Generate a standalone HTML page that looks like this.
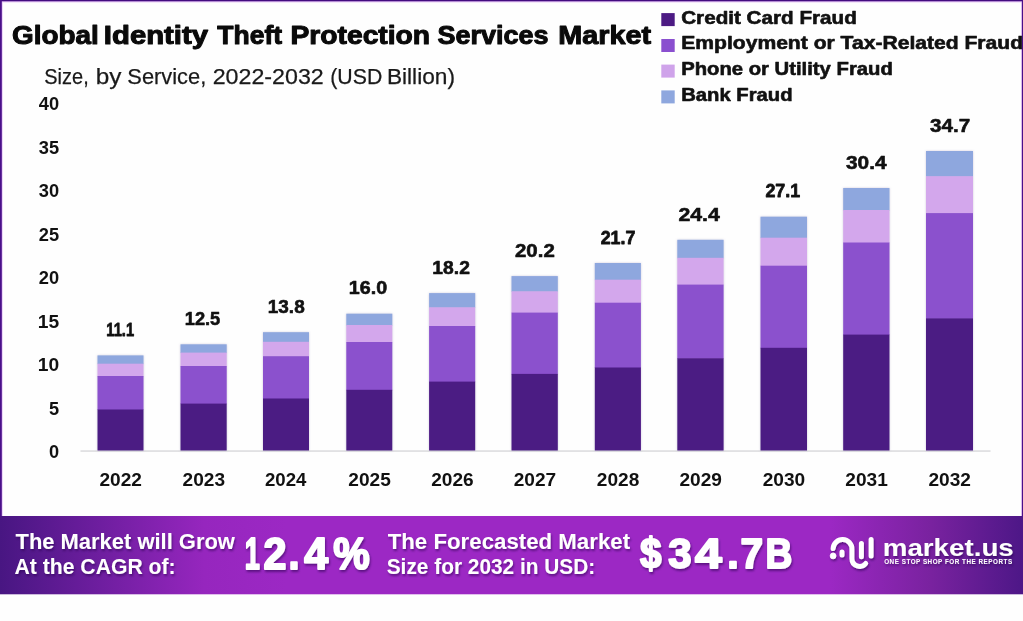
<!DOCTYPE html>
<html lang="en"><head><meta charset="utf-8"><title>Global Identity Theft Protection Services Market</title>
<style>
html,body{margin:0;padding:0;background:#fff;}
body{width:1023px;height:621px;overflow:hidden;}
svg{display:block}
text{font-family:"Liberation Sans",Arial,sans-serif;}
</style></head><body>
<svg width="1023" height="621" viewBox="0 0 1023 621">
<defs>
<linearGradient id="bg" x1="0" y1="0" x2="1" y2="0">
<stop offset="0" stop-color="#481682"/>
<stop offset="0.2" stop-color="#9626be"/>
<stop offset="0.28" stop-color="#9c28c4"/>
<stop offset="0.81" stop-color="#9c28c4"/>
<stop offset="0.91" stop-color="#79229f"/>
<stop offset="1" stop-color="#4d1787"/>
</linearGradient>
<filter id="sh" x="-10%" y="-10%" width="120%" height="130%"><feDropShadow dx="1" dy="2" stdDeviation="1.2" flood-color="#2a0650" flood-opacity="0.55"/></filter>
<filter id="soft" x="-15%" y="-5%" width="130%" height="110%"><feGaussianBlur stdDeviation="0.45" result="b"/><feDropShadow in="b" dx="0" dy="0" stdDeviation="1.3" flood-color="#7a6aa0" flood-opacity="0.35"/></filter>
</defs>
<rect x="0" y="0" width="1023" height="621" fill="#fefefe"/>

<rect x="0" y="0" width="1023" height="2.4" fill="#e6c4f6"/>
<rect x="0" y="0" width="2.7" height="520" fill="#e6c4f6"/>
<rect x="1021.2" y="0" width="1.8" height="520" fill="#e6c4f6"/>
<rect x="0" y="0" width="1023" height="1.3" fill="#430c80"/>
<rect x="0" y="0" width="1.8" height="520" fill="#4a1089"/>
<rect x="1021.9" y="0" width="1.1" height="520" fill="#4a1089"/>
<text x="12.10" y="44.3" font-size="25" font-weight="bold" textLength="86.69" lengthAdjust="spacingAndGlyphs" fill="#0a0a0a" stroke="#0a0a0a" stroke-width="1.0" stroke-linejoin="round">Global</text>
<text x="103.83" y="44.3" font-size="25" font-weight="bold" textLength="104.26" lengthAdjust="spacingAndGlyphs" fill="#0a0a0a" stroke="#0a0a0a" stroke-width="1.0" stroke-linejoin="round">Identity</text>
<text x="217.36" y="44.3" font-size="25" font-weight="bold" textLength="64.70" lengthAdjust="spacingAndGlyphs" fill="#0a0a0a" stroke="#0a0a0a" stroke-width="1.0" stroke-linejoin="round">Theft</text>
<text x="290.47" y="44.3" font-size="25" font-weight="bold" textLength="139.64" lengthAdjust="spacingAndGlyphs" fill="#0a0a0a" stroke="#0a0a0a" stroke-width="1.0" stroke-linejoin="round">Protection</text>
<text x="437.60" y="44.3" font-size="25" font-weight="bold" textLength="110.87" lengthAdjust="spacingAndGlyphs" fill="#0a0a0a" stroke="#0a0a0a" stroke-width="1.0" stroke-linejoin="round">Services</text>
<text x="558.35" y="44.3" font-size="25" font-weight="bold" textLength="92.78" lengthAdjust="spacingAndGlyphs" fill="#0a0a0a" stroke="#0a0a0a" stroke-width="1.0" stroke-linejoin="round">Market</text>
<text x="44.32" y="83.9" font-size="22.6" font-weight="normal" textLength="44.37" lengthAdjust="spacingAndGlyphs" fill="#1a1a1a" stroke="#1a1a1a" stroke-width="0.25" stroke-linejoin="round">Size,</text>
<text x="95.72" y="83.9" font-size="22.6" font-weight="normal" textLength="25.74" lengthAdjust="spacingAndGlyphs" fill="#1a1a1a" stroke="#1a1a1a" stroke-width="0.25" stroke-linejoin="round">by</text>
<text x="127.33" y="83.9" font-size="22.6" font-weight="normal" textLength="78.94" lengthAdjust="spacingAndGlyphs" fill="#1a1a1a" stroke="#1a1a1a" stroke-width="0.25" stroke-linejoin="round">Service,</text>
<text x="212.67" y="83.9" font-size="22.6" font-weight="normal" textLength="111.12" lengthAdjust="spacingAndGlyphs" fill="#1a1a1a" stroke="#1a1a1a" stroke-width="0.25" stroke-linejoin="round">2022-2032</text>
<text x="330.26" y="83.9" font-size="22.6" font-weight="normal" textLength="52.06" lengthAdjust="spacingAndGlyphs" fill="#1a1a1a" stroke="#1a1a1a" stroke-width="0.25" stroke-linejoin="round">(USD</text>
<text x="386.90" y="83.9" font-size="22.6" font-weight="normal" textLength="68.12" lengthAdjust="spacingAndGlyphs" fill="#1a1a1a" stroke="#1a1a1a" stroke-width="0.25" stroke-linejoin="round">Billion)</text>
<rect x="661.3" y="13.1" width="13.4" height="13" fill="#4c1a83"/>
<text x="681.20" y="24.0" font-size="18.4" font-weight="bold" textLength="175.59" lengthAdjust="spacingAndGlyphs" fill="#111" stroke="#111" stroke-width="0.6" stroke-linejoin="round">Credit Card Fraud</text>
<rect x="661.3" y="39.0" width="13.4" height="13" fill="#8a4fcf"/>
<text x="681.20" y="49.4" font-size="18.4" font-weight="bold" textLength="341.92" lengthAdjust="spacingAndGlyphs" fill="#111" stroke="#111" stroke-width="0.6" stroke-linejoin="round">Employment or Tax-Related Fraud</text>
<rect x="661.3" y="64.6" width="13.4" height="13" fill="#cfa3ea"/>
<text x="681.20" y="74.9" font-size="18.4" font-weight="bold" textLength="211.60" lengthAdjust="spacingAndGlyphs" fill="#111" stroke="#111" stroke-width="0.6" stroke-linejoin="round">Phone or Utility Fraud</text>
<rect x="661.3" y="90.4" width="13.4" height="13" fill="#8ea7de"/>
<text x="681.20" y="101.0" font-size="18.4" font-weight="bold" textLength="111.39" lengthAdjust="spacingAndGlyphs" fill="#111" stroke="#111" stroke-width="0.6" stroke-linejoin="round">Bank Fraud</text>
<text x="49.00" y="458.0" font-size="18" font-weight="bold" textLength="10.12" lengthAdjust="spacingAndGlyphs" fill="#111">0</text>
<text x="49.00" y="414.5" font-size="18" font-weight="bold" textLength="10.12" lengthAdjust="spacingAndGlyphs" fill="#111">5</text>
<text x="37.73" y="371.0" font-size="18" font-weight="bold" textLength="21.40" lengthAdjust="spacingAndGlyphs" fill="#111">10</text>
<text x="37.73" y="327.5" font-size="18" font-weight="bold" textLength="21.40" lengthAdjust="spacingAndGlyphs" fill="#111">15</text>
<text x="38.80" y="284.0" font-size="18" font-weight="bold" textLength="20.33" lengthAdjust="spacingAndGlyphs" fill="#111">20</text>
<text x="38.80" y="240.5" font-size="18" font-weight="bold" textLength="20.33" lengthAdjust="spacingAndGlyphs" fill="#111">25</text>
<text x="38.80" y="197.0" font-size="18" font-weight="bold" textLength="20.33" lengthAdjust="spacingAndGlyphs" fill="#111">30</text>
<text x="38.80" y="153.5" font-size="18" font-weight="bold" textLength="20.33" lengthAdjust="spacingAndGlyphs" fill="#111">35</text>
<text x="38.80" y="110.0" font-size="18" font-weight="bold" textLength="20.33" lengthAdjust="spacingAndGlyphs" fill="#111">40</text>
<rect x="80.5" y="450.4" width="910" height="1.3" fill="#d4d4d8"/>
<g filter="url(#soft)">
<rect x="97.5" y="355.4" width="46.0" height="8.8" fill="#8ea7de"/>
<rect x="97.5" y="363.7" width="46.0" height="12.8" fill="#d3a7ec"/>
<rect x="97.5" y="376.0" width="46.0" height="34.0" fill="#8b51cd"/>
<rect x="97.5" y="409.5" width="46.0" height="41.0" fill="#4c1a83"/>
</g>
<text x="106.30" y="336.1" font-size="19" font-weight="bold" textLength="27.85" lengthAdjust="spacingAndGlyphs" fill="#111" stroke="#111" stroke-width="0.8" stroke-linejoin="round">11.1</text>
<text x="99.50" y="485.5" font-size="18.2" font-weight="bold" textLength="42.49" lengthAdjust="spacingAndGlyphs" fill="#111">2022</text>
<g filter="url(#soft)">
<rect x="180.5" y="344.3" width="46.2" height="8.8" fill="#8ea7de"/>
<rect x="180.5" y="352.6" width="46.2" height="13.9" fill="#d3a7ec"/>
<rect x="180.5" y="366.0" width="46.2" height="38.1" fill="#8b51cd"/>
<rect x="180.5" y="403.6" width="46.2" height="46.9" fill="#4c1a83"/>
</g>
<text x="184.74" y="325.0" font-size="19" font-weight="bold" textLength="35.55" lengthAdjust="spacingAndGlyphs" fill="#111" stroke="#111" stroke-width="0.6" stroke-linejoin="round">12.5</text>
<text x="182.60" y="485.5" font-size="18.2" font-weight="bold" textLength="42.49" lengthAdjust="spacingAndGlyphs" fill="#111">2023</text>
<g filter="url(#soft)">
<rect x="263.0" y="332.2" width="46.0" height="10.1" fill="#8ea7de"/>
<rect x="263.0" y="341.8" width="46.0" height="14.9" fill="#d3a7ec"/>
<rect x="263.0" y="356.2" width="46.0" height="42.8" fill="#8b51cd"/>
<rect x="263.0" y="398.5" width="46.0" height="52.0" fill="#4c1a83"/>
</g>
<text x="267.80" y="312.9" font-size="19" font-weight="bold" textLength="36.88" lengthAdjust="spacingAndGlyphs" fill="#111" stroke="#111" stroke-width="0.6" stroke-linejoin="round">13.8</text>
<text x="265.00" y="485.5" font-size="18.2" font-weight="bold" textLength="41.46" lengthAdjust="spacingAndGlyphs" fill="#111">2024</text>
<g filter="url(#soft)">
<rect x="346.3" y="313.7" width="46.0" height="11.8" fill="#8ea7de"/>
<rect x="346.3" y="325.0" width="46.0" height="17.5" fill="#d3a7ec"/>
<rect x="346.3" y="342.0" width="46.0" height="48.3" fill="#8b51cd"/>
<rect x="346.3" y="389.8" width="46.0" height="60.7" fill="#4c1a83"/>
</g>
<text x="348.86" y="294.4" font-size="19" font-weight="bold" textLength="38.32" lengthAdjust="spacingAndGlyphs" fill="#111" stroke="#111" stroke-width="0.6" stroke-linejoin="round">16.0</text>
<text x="348.30" y="485.5" font-size="18.2" font-weight="bold" textLength="42.49" lengthAdjust="spacingAndGlyphs" fill="#111">2025</text>
<g filter="url(#soft)">
<rect x="429.1" y="293.1" width="46.1" height="14.7" fill="#8ea7de"/>
<rect x="429.1" y="307.3" width="46.1" height="19.2" fill="#d3a7ec"/>
<rect x="429.1" y="326.0" width="46.1" height="56.1" fill="#8b51cd"/>
<rect x="429.1" y="381.6" width="46.1" height="68.9" fill="#4c1a83"/>
</g>
<text x="432.39" y="273.8" font-size="19" font-weight="bold" textLength="37.50" lengthAdjust="spacingAndGlyphs" fill="#111" stroke="#111" stroke-width="0.6" stroke-linejoin="round">18.2</text>
<text x="431.15" y="485.5" font-size="18.2" font-weight="bold" textLength="42.49" lengthAdjust="spacingAndGlyphs" fill="#111">2026</text>
<g filter="url(#soft)">
<rect x="511.5" y="276.1" width="46.3" height="15.7" fill="#8ea7de"/>
<rect x="511.5" y="291.3" width="46.3" height="21.8" fill="#d3a7ec"/>
<rect x="511.5" y="312.6" width="46.3" height="61.8" fill="#8b51cd"/>
<rect x="511.5" y="373.9" width="46.3" height="76.6" fill="#4c1a83"/>
</g>
<text x="515.00" y="256.8" font-size="19" font-weight="bold" textLength="39.78" lengthAdjust="spacingAndGlyphs" fill="#111" stroke="#111" stroke-width="0.6" stroke-linejoin="round">20.2</text>
<text x="513.65" y="485.5" font-size="18.2" font-weight="bold" textLength="42.49" lengthAdjust="spacingAndGlyphs" fill="#111">2027</text>
<g filter="url(#soft)">
<rect x="594.8" y="263.0" width="46.1" height="17.2" fill="#8ea7de"/>
<rect x="594.8" y="279.7" width="46.1" height="23.5" fill="#d3a7ec"/>
<rect x="594.8" y="302.7" width="46.1" height="65.3" fill="#8b51cd"/>
<rect x="594.8" y="367.5" width="46.1" height="83.0" fill="#4c1a83"/>
</g>
<text x="600.70" y="243.7" font-size="19" font-weight="bold" textLength="34.69" lengthAdjust="spacingAndGlyphs" fill="#111" stroke="#111" stroke-width="0.8" stroke-linejoin="round">21.7</text>
<text x="596.85" y="485.5" font-size="18.2" font-weight="bold" textLength="42.49" lengthAdjust="spacingAndGlyphs" fill="#111">2028</text>
<g filter="url(#soft)">
<rect x="677.3" y="239.8" width="46.3" height="18.5" fill="#8ea7de"/>
<rect x="677.3" y="257.8" width="46.3" height="27.3" fill="#d3a7ec"/>
<rect x="677.3" y="284.6" width="46.3" height="74.2" fill="#8b51cd"/>
<rect x="677.3" y="358.3" width="46.3" height="92.2" fill="#4c1a83"/>
</g>
<text x="678.40" y="220.5" font-size="19" font-weight="bold" textLength="41.36" lengthAdjust="spacingAndGlyphs" fill="#111" stroke="#111" stroke-width="0.6" stroke-linejoin="round">24.4</text>
<text x="679.45" y="485.5" font-size="18.2" font-weight="bold" textLength="42.49" lengthAdjust="spacingAndGlyphs" fill="#111">2029</text>
<g filter="url(#soft)">
<rect x="760.5" y="216.7" width="46.5" height="21.5" fill="#8ea7de"/>
<rect x="760.5" y="237.7" width="46.5" height="28.5" fill="#d3a7ec"/>
<rect x="760.5" y="265.7" width="46.5" height="82.6" fill="#8b51cd"/>
<rect x="760.5" y="347.8" width="46.5" height="102.7" fill="#4c1a83"/>
</g>
<text x="765.40" y="197.4" font-size="19" font-weight="bold" textLength="34.69" lengthAdjust="spacingAndGlyphs" fill="#111" stroke="#111" stroke-width="0.8" stroke-linejoin="round">27.1</text>
<text x="762.75" y="485.5" font-size="18.2" font-weight="bold" textLength="42.49" lengthAdjust="spacingAndGlyphs" fill="#111">2030</text>
<g filter="url(#soft)">
<rect x="843.2" y="188.0" width="46.3" height="22.5" fill="#8ea7de"/>
<rect x="843.2" y="210.0" width="46.3" height="33.0" fill="#d3a7ec"/>
<rect x="843.2" y="242.5" width="46.3" height="92.6" fill="#8b51cd"/>
<rect x="843.2" y="334.6" width="46.3" height="115.9" fill="#4c1a83"/>
</g>
<text x="846.00" y="168.7" font-size="19" font-weight="bold" textLength="40.49" lengthAdjust="spacingAndGlyphs" fill="#111" stroke="#111" stroke-width="0.6" stroke-linejoin="round">30.4</text>
<text x="845.35" y="485.5" font-size="18.2" font-weight="bold" textLength="42.49" lengthAdjust="spacingAndGlyphs" fill="#111">2031</text>
<g filter="url(#soft)">
<rect x="926.0" y="151.0" width="47.0" height="25.7" fill="#8ea7de"/>
<rect x="926.0" y="176.2" width="47.0" height="37.4" fill="#d3a7ec"/>
<rect x="926.0" y="213.1" width="47.0" height="105.8" fill="#8b51cd"/>
<rect x="926.0" y="318.4" width="47.0" height="132.1" fill="#4c1a83"/>
</g>
<text x="930.10" y="131.7" font-size="19" font-weight="bold" textLength="40.08" lengthAdjust="spacingAndGlyphs" fill="#111" stroke="#111" stroke-width="0.6" stroke-linejoin="round">34.7</text>
<text x="928.50" y="485.5" font-size="18.2" font-weight="bold" textLength="42.49" lengthAdjust="spacingAndGlyphs" fill="#111">2032</text>
<rect x="0" y="516" width="1023" height="78.3" fill="url(#bg)"/>
<g fill="#fff" stroke="#fff" stroke-linejoin="round" font-weight="bold" filter="url(#sh)">
<text x="15.49" y="548.5" font-size="22.2" font-weight="bold" textLength="219.45" lengthAdjust="spacingAndGlyphs" stroke="None" stroke-width="1.0" stroke-linejoin="round">The Market will Grow</text>
<text x="14.50" y="573.6" font-size="22.2" font-weight="bold" textLength="161.12" lengthAdjust="spacingAndGlyphs" stroke="None" stroke-width="1.0" stroke-linejoin="round">At the CAGR of:</text>
<text transform="translate(244.68,568.7) scale(0.622,1)" font-size="43.6" stroke-width="2.0">1</text>
<text transform="translate(263.60,568.7) scale(0.946,1)" font-size="43.6" stroke-width="2.0">2</text>
<text transform="translate(288.58,568.7) scale(0.911,1)" font-size="43.6" stroke-width="2.0">.</text>
<text transform="translate(304.18,568.7) scale(0.985,1)" font-size="43.6" stroke-width="2.0">4</text>
<text transform="translate(333.20,568.7) scale(0.941,1)" font-size="43.6" stroke-width="2.0">%</text>
<text x="387.70" y="548.6" font-size="22.2" font-weight="bold" textLength="242.38" lengthAdjust="spacingAndGlyphs" stroke="None" stroke-width="1.0" stroke-linejoin="round">The Forecasted Market</text>
<text x="386.70" y="573.6" font-size="22.2" font-weight="bold" textLength="208.60" lengthAdjust="spacingAndGlyphs" stroke="None" stroke-width="1.0" stroke-linejoin="round">Size for 2032 in USD:</text>
<text transform="translate(640.00,567.9) scale(0.896,1)" font-size="43.2" stroke-width="2.0">$</text>
<text transform="translate(668.20,567.9) scale(0.971,1)" font-size="43.2" stroke-width="2.0">3</text>
<text transform="translate(695.12,567.9) scale(1.115,1)" font-size="43.2" stroke-width="2.0">4</text>
<text transform="translate(727.34,567.9) scale(0.956,1)" font-size="43.2" stroke-width="2.0">.</text>
<text transform="translate(740.50,567.9) scale(0.938,1)" font-size="43.2" stroke-width="2.0">7</text>
<text transform="translate(765.44,567.9) scale(0.859,1)" font-size="43.2" stroke-width="2.0">B</text>
<text x="882.72" y="555.6" font-size="23.6" font-weight="bold" textLength="131.04" lengthAdjust="spacingAndGlyphs" stroke="None" stroke-width="0.8" stroke-linejoin="round">market.us</text>
<text x="884.20" y="564.2" font-size="6.3" font-weight="bold" textLength="127.89" lengthAdjust="spacing" stroke="None" stroke-width="0.3" stroke-linejoin="round">ONE STOP SHOP FOR THE REPORTS</text>
<g fill="none" stroke-width="5" stroke-linecap="round">
<path d="M833.1 548.6 A9.4 9.4 0 0 1 851.9 549.3 L851.9 558.5 A7.8 7.8 0 0 0 865.7 563.5"/>
<path d="M842 551.9 L842 554.9"/>
<path d="M861.4 543.6 L861.4 556.8"/>
<path d="M871.1 539.5 L871.1 556"/>
</g>
<circle cx="833.1" cy="555.9" r="2.9" stroke-width="0.8"/>
</g>
</svg></body></html>
